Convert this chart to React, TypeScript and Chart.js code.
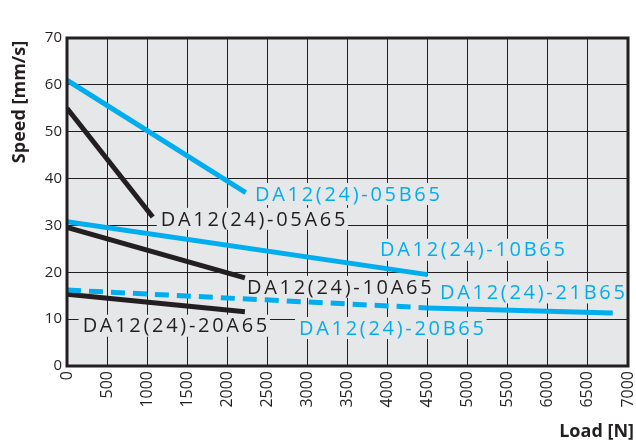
import React, { useEffect, useRef } from "react";
import { Chart, registerables } from "chart.js";

Chart.register(...registerables);

// ---- data ----
const xTickValues = [0, 500, 1000, 1500, 2000, 2500, 3000, 3500, 4000, 4500, 5000, 5500, 6000, 6500, 7000];
const yTickValues = [0, 10, 20, 30, 40, 50, 60, 70];

const s05B65x = [0, 2230];
const s05B65y = [61, 37];
const s05A65x = [0, 1070];
const s05A65y = [55, 31.8];
const s10B65x = [0, 4500];
const s10B65y = [30.8, 19.5];
const s10A65x = [0, 2220];
const s10A65y = [29.6, 18.8];
const s20B65x = [0, 4500];
const s20B65y = [16.2, 12.4];
const s21B65x = [4500, 6810];
const s21B65y = [12.4, 11.3];
const s20A65x = [0, 2220];
const s20A65y = [15.3, 11.6];

const labelTexts = [
  "DA12(24)-05B65",
  "DA12(24)-05A65",
  "DA12(24)-10B65",
  "DA12(24)-10A65",
  "DA12(24)-21B65",
  "DA12(24)-20A65",
  "DA12(24)-20B65",
];
const labelX = [2346, 1170, 3906, 2246, 4654, 195, 2895];
const labelY = [36.7, 31.4, 24.8, 16.9, 15.7, 8.6, 8.1];

const BLUE = "#00aeef";
const BLACK = "#231f20";
const BG = "#e6e7e8";
const labelColors = [BLUE, BLACK, BLUE, BLACK, BLUE, BLACK, BLUE];

const pts = (xs: number[], ys: number[]) => xs.map((x, i) => ({ x, y: ys[i] }));

const FONT_FAMILY = "'Open Sans', 'DejaVu Sans', sans-serif";
const LABEL_FONT = `400 20px ${FONT_FAMILY}`;
const LABEL_SPACING = "2.7px";

const decorPlugin = {
  id: "decor",
  beforeDraw(chart: any) {
    const { ctx, chartArea: a } = chart;
    ctx.save();
    ctx.fillStyle = "#ffffff";
    ctx.fillRect(0, 0, chart.width, chart.height);
    ctx.fillStyle = BG;
    ctx.fillRect(a.left, a.top, a.right - a.left, a.bottom - a.top);
    ctx.restore();
  },
  beforeDatasetsDraw(chart: any) {
    const { ctx } = chart;
    const xs = chart.scales.x;
    const ys = chart.scales.y;
    ctx.save();
    ctx.font = LABEL_FONT;
    (ctx as any).letterSpacing = LABEL_SPACING;
    ctx.fillStyle = BG;
    labelTexts.forEach((t, i) => {
      const px = xs.getPixelForValue(labelX[i]);
      const py = ys.getPixelForValue(labelY[i]);
      const w = ctx.measureText(t).width;
      ctx.fillRect(px - 4, py - 11, w + 4, 22);
    });
    ctx.restore();
  },
  afterDatasetsDraw(chart: any) {
    const { ctx, chartArea: a } = chart;
    const xs = chart.scales.x;
    const ys = chart.scales.y;
    ctx.save();
    ctx.font = LABEL_FONT;
    (ctx as any).letterSpacing = LABEL_SPACING;
    ctx.textBaseline = "middle";
    ctx.textAlign = "left";
    labelTexts.forEach((t, i) => {
      const px = xs.getPixelForValue(labelX[i]);
      const py = ys.getPixelForValue(labelY[i]);
      ctx.fillStyle = labelColors[i];
      ctx.fillText(t, px, py + 1);
    });
    (ctx as any).letterSpacing = "0px";
    // border
    ctx.strokeStyle = BLACK;
    ctx.lineWidth = 3;
    ctx.strokeRect(a.left, a.top, a.right - a.left, a.bottom - a.top);
    // axis titles
    ctx.fillStyle = BLACK;
    ctx.font = `bold 18px ${FONT_FAMILY}`;
    ctx.textAlign = "right";
    ctx.textBaseline = "middle";
    ctx.fillText("Load [N]", 634, 432);
    ctx.translate(20, 102);
    ctx.rotate(-Math.PI / 2);
    ctx.textAlign = "center";
    ctx.fillText("Speed [mm/s]", 0, 0);
    ctx.restore();
  },
};

export default function App() {
  const ref = useRef<HTMLCanvasElement | null>(null);
  useEffect(() => {
    if (!ref.current) return;
    const lineDs = (xs: number[], ys: number[], color: string, dash: number[] = []) => ({
      data: pts(xs, ys),
      borderColor: color,
      borderWidth: 5,
      borderDash: dash,
      borderCapStyle: "butt" as const,
      pointRadius: 0,
      fill: false,
      tension: 0,
    });
    const chart = new Chart(ref.current, {
      type: "line",
      data: {
        datasets: [
          lineDs(s05B65x, s05B65y, BLUE),
          lineDs(s05A65x, s05A65y, BLACK),
          lineDs(s10B65x, s10B65y, BLUE),
          lineDs(s10A65x, s10A65y, BLACK),
          lineDs(s20B65x, s20B65y, BLUE, [14, 8]),
          lineDs(s21B65x, s21B65y, BLUE),
          lineDs(s20A65x, s20A65y, BLACK),
        ] as any,
      },
      options: {
        responsive: false,
        animation: false,
        devicePixelRatio: 1,
        layout: { padding: { top: 38, right: 8, left: 0, bottom: 0 } },
        plugins: { legend: { display: false }, tooltip: { enabled: false } },
        scales: {
          x: {
            type: "linear",
            min: 0,
            max: 7000,
            afterBuildTicks: (s: any) => {
              s.ticks = xTickValues.map((v) => ({ value: v }));
            },
            afterFit: (s: any) => {
              s.height = 75;
              s.paddingLeft = 0;
              s.paddingRight = 0;
            },
            ticks: {
              autoSkip: false,
              minRotation: 90,
              maxRotation: 90,
              padding: 5,
              color: BLACK,
              font: { size: 16, family: FONT_FAMILY },
              callback: (v: any) => String(v),
            },
            grid: { color: BLACK, lineWidth: 1, drawTicks: false },
            border: { display: false },
          },
          y: {
            type: "linear",
            min: 0,
            max: 70,
            afterBuildTicks: (s: any) => {
              s.ticks = yTickValues.map((v) => ({ value: v }));
            },
            afterFit: (s: any) => {
              s.width = 67;
              s.paddingTop = 0;
              s.paddingBottom = 0;
            },
            ticks: {
              padding: 5,
              color: BLACK,
              font: { size: 15, family: FONT_FAMILY },
              callback: (v: any) => String(v),
            },
            grid: { color: BLACK, lineWidth: 1, drawTicks: false },
            border: { display: false },
          },
        },
      },
      plugins: [decorPlugin],
    });
    return () => chart.destroy();
  }, []);
  return (
    <div style={{ position: "fixed", left: 0, top: 0, width: 636, height: 441, background: "#fff" }}>
      <canvas ref={ref} width={636} height={441} style={{ display: "block" }} />
    </div>
  );
}
